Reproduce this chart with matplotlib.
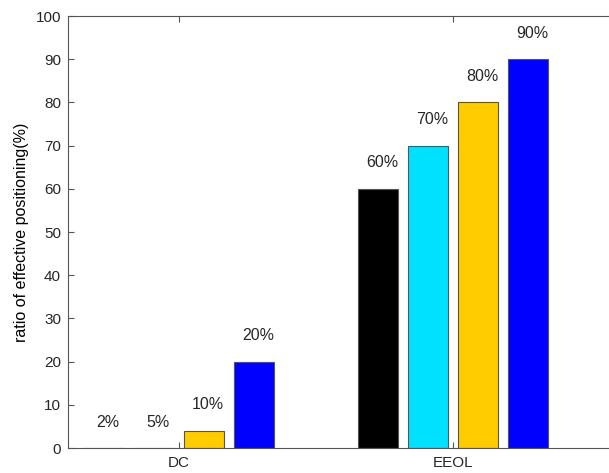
import numpy as np
import matplotlib
matplotlib.use("Agg")
from matplotlib import pyplot as plt

groups = ["DC", "EEOL"]
black_vals = [0, 60]
cyan_vals = [0, 70]
gold_vals = [4, 80]
blue_vals = [20, 90]
labels = [["2%", "5%", "10%", "20%"], ["60%", "70%", "80%", "90%"]]
colors = ["#000000", "#00E1FF", "#FFCC00", "#0000FF"]

plt.rcParams["font.family"] = ["Liberation Sans", "DejaVu Sans"]
plt.rcParams["font.size"] = 11

fig = plt.figure(figsize=(6.09, 4.73), dpi=100)
ax = fig.add_axes([68 / 609, 25 / 473, 541 / 609, 432 / 473])

x = np.arange(1, len(groups) + 1)
step = 50 / 274
width = 40 / 274
series = [black_vals, cyan_vals, gold_vals, blue_vals]
for i, vals in enumerate(series):
    pos = x + (i - 1.5) * step
    ax.bar(pos, vals, width, color=colors[i], edgecolor="#555555", linewidth=0.8)
    for j, v in enumerate(vals):
        ax.text(pos[j] + 0.015, v + 6, labels[j][i], ha="center", va="center",
                fontsize=11.5, color="#262626")

ax.set_xlim(1 - 111 / 274, 1 + 430 / 274)
ax.set_ylim(0, 100)
ax.set_yticks(np.arange(0, 101, 10))
ax.set_xticks(x)
ax.set_xticklabels(groups)
ax.set_ylabel("ratio of effective positioning(%)", fontsize=11.5)
ax.yaxis.set_label_coords(-0.072, 0.5)

ax.spines["right"].set_visible(False)
for s in ["left", "bottom", "top"]:
    ax.spines[s].set_color("#555555")
    ax.spines[s].set_linewidth(0.8)
ax.tick_params(direction="in", length=4, width=0.8, color="#555555",
               labelcolor="#262626", top=True, labelsize=11)
ax.tick_params(axis="x", pad=6)
ax.tick_params(axis="y", right=False, pad=5)

fig.savefig("out.png", dpi=100)
